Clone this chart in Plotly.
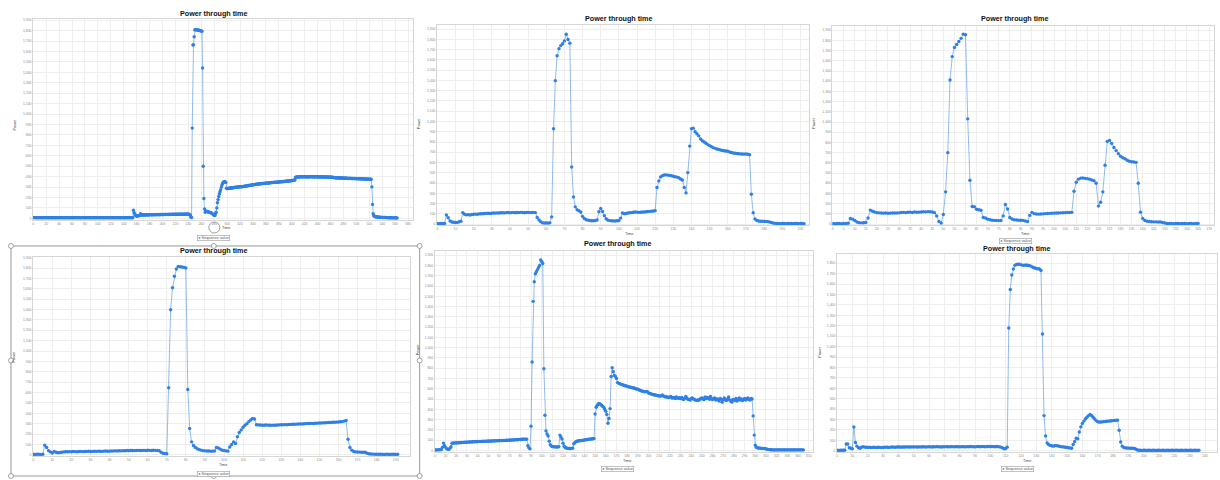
import plotly.graph_objects as go

W, H = 1220, 480

# ---------------- data (power per time step) ----------------
power_1 = [
    8,7,7,6,7,7,6,6,7,7,6,7,7,6,6,7,7,6,7,7,
    6,7,7,6,6,7,7,6,7,6,6,7,7,6,6,7,6,7,7,6,
    7,7,6,6,7,7,6,7,7,6,6,7,6,7,7,6,7,6,6,7,
    7,6,7,7,6,6,7,7,6,7,6,7,7,6,6,7,7,6,7,7,
    6,6,7,7,6,7,7,6,6,7,6,7,7,6,7,7,6,6,7,7,
    6,7,7,6,6,7,7,6,7,6,6,7,7,6,7,7,6,7,6,6,
    7,7,6,7,7,6,6,7,7,6,7,6,7,7,6,6,7,7,6,7,
    7,6,6,7,7,6,7,7,6,7,6,7,7,6,6,
    78,55,45,30,25,22,22,25,24,28,30,45,35,
    32,33,32,34,33,33,34,35,34,33,35,34,35,36,35,34,35,36,35,36,
    36,35,37,36,36,37,36,35,37,36,37,38,37,36,37,38,37,38,38,37,
    38,37,38,39,38,37,38,39,38,39,39,38,40,39,38,39,40,39,40,39,
    40,41,40,39,40,41,40,41,40,41,42,40,41,40,38,
    30,12,8,
    866,1662,1665,1742,1808,1812,1810,1809,1806,1807,1805,1803,1800,1801,1797,1795,1443,500,191,90,
    58,72,68,66,64,62,60,58,56,54,50,46,40,35,30,28,45,60,100,150,
    180,210,235,255,275,300,320,335,345,352,355,350,345,290,
    285,288,287,290,289,292,291,293,294,292,295,296,298,297,299,300,301,300,302,303,
    302,304,305,304,306,307,306,308,309,310,311,312,313,315,316,318,317,319,320,322,
    321,323,324,325,326,327,328,329,330,331,330,332,333,332,334,335,334,336,337,336,
    338,339,338,340,341,340,342,341,343,344,343,345,344,346,345,347,346,348,347,349,
    350,349,351,352,351,353,352,354,355,354,356,357,356,358,357,359,360,359,361,362,
    363,364,365,366,367,368,
    394,396,397,398,397,399,398,400,399,398,400,399,401,400,399,398,400,399,398,400,
    399,400,398,399,401,400,399,398,399,400,399,398,400,399,397,398,399,398,397,399,
    398,397,399,398,396,397,398,397,396,397,398,396,395,397,396,394,395,396,393,392,
    390,391,389,390,388,389,390,388,387,389,388,387,386,388,387,386,385,387,386,385,
    384,385,383,384,385,383,382,384,383,382,381,383,382,381,380,382,381,380,379,381,
    380,379,378,380,379,378,377,379,378,377,376,378,377,376,375,377,376,375,
    302,134,45,25,20,18,16,15,14,13,12,12,11,11,10,10,9,9,9,8,
    8,8,7,7,7,7,6,6,6,6,6,5,5,5,5,5,5,4,4,4,
]

power_2 = [
    5,4,5,5,6,
    88,62,30,20,17,15,16,22,28,
    112,95,90,92,88,93,95,97,96,99,101,100,103,104,105,103,
    106,108,107,109,108,110,111,109,112,113,110,112,114,111,113,112,114,113,111,113,114,112,113,114,112,
    65,40,22,12,10,11,10,12,70,
    929,1398,1641,1710,1740,1758,1786,1851,1800,1764,557,265,168,140,130,118,75,55,42,38,
    35,33,32,34,40,120,152,122,82,52,38,34,32,31,30,32,35,58,108,100,103,
    108,110,112,115,118,116,114,115,117,118,120,122,124,125,127,130,
    356,421,460,472,478,480,477,475,471,466,462,458,452,440,
    430,356,304,502,760,930,935,900,880,860,830,812,800,788,775,765,755,745,738,732,
    728,722,718,715,712,710,703,698,693,690,688,686,684,683,682,683,681,676,
    291,110,50,35,30,28,27,26,25,24,20,15,10,7,
    5,5,4,5,5,4,5,5,5,4,5,5,4,5,5,4,
]

power_3 = [
    5,4,5,5,4,5,6,8,
    55,48,35,20,14,12,13,15,
    60,137,125,118,112,110,108,107,108,106,107,108,109,108,110,
    113,115,112,116,117,114,118,116,117,119,121,120,122,121,118,112,
    80,25,10,94,316,700,1412,1641,1730,1760,1789,1820,1861,1855,1031,429,
    172,170,145,140,135,65,60,48,42,38,36,35,34,35,
    80,192,147,65,50,42,40,38,37,36,30,25,
    85,115,102,98,97,98,100,102,103,105,106,107,108,109,110,111,112,113,114,115,
    322,410,440,450,452,448,445,440,432,425,400,176,215,316,576,810,820,790,750,720,
    690,665,650,640,625,615,610,608,605,
    400,117,55,35,28,25,23,22,22,21,20,15,10,
    6,5,5,4,5,5,4,5,5,4,5,5,4,5,5,
]

power_4 = [
    5,4,5,5,4,6,
    93,70,40,28,18,32,25,20,22,24,
    28,30,29,31,30,32,31,30,32,33,31,32,33,34,32,33,34,33,35,34,33,35,36,34,35,
    36,37,38,37,39,38,40,39,41,40,42,41,40,42,43,41,42,43,42,44,43,42,44,43,42,40,
    25,15,12,10,
    646,1398,1610,1721,1790,1815,1812,1810,1806,1800,
    630,253,125,90,70,58,50,45,40,38,37,36,35,35,36,
    70,65,55,45,42,38,35,
    75,100,125,110,175,215,240,265,285,300,320,335,350,345,290,
    288,287,286,285,287,286,285,284,286,285,287,288,289,290,291,290,292,293,294,295,
    296,297,298,297,299,300,301,302,303,302,304,305,306,307,308,309,310,311,312,313,
    314,315,316,318,320,325,330,
    150,70,45,32,28,27,26,25,25,24,15,10,8,7,6,6,5,5,5,4,5,5,4,5,5,4,5,
]

power_5 = [
    5,4,5,5,6,5,8,
    30,71,45,30,15,12,10,20,
    35,70,72,71,73,74,73,75,76,75,77,78,77,79,80,
    80,81,82,83,82,84,85,84,86,85,87,86,88,87,88,89,88,90,89,90,
    91,90,92,91,93,92,94,93,95,94,95,96,95,97,96,98,97,99,98,100,
    101,100,102,103,102,104,105,104,106,107,106,108,109,108,110,109,110,
    45,25,15,236,860,1451,1641,1720,1740,1760,1780,1800,1855,1840,1820,
    795,342,190,160,140,90,55,42,38,36,35,34,33,34,36,
    149,130,110,70,40,28,24,22,20,19,18,20,22,65,
    75,85,90,92,94,95,97,98,100,102,104,105,106,108,110,111,112,114,115,
    355,420,440,455,455,450,440,430,420,400,380,350,265,310,407,720,805,765,730,720,700,660,
    655,650,645,640,638,635,630,628,625,620,618,615,612,610,608,605,600,598,595,590,
    585,580,578,575,572,570,575,572,
    560,555,552,548,545,542,540,538,535,533,530,528,532,540,530,525,520,522,518,515,
    520,525,510,512,515,505,520,510,508,512,505,515,500,495,510,525,505,498,495,490,
    505,510,500,495,490,485,490,488,495,505,
    510,500,495,520,505,515,510,498,525,500,495,505,510,490,500,495,480,505,498,470,
    495,510,490,485,500,520,490,480,470,495,490,485,505,480,495,510,490,500,485,495,
    505,490,500,510,495,490,505,500,
    336,149,50,30,25,24,22,21,20,20,19,18,15,12,10,8,7,6,5,5,
    4,5,5,4,5,5,4,5,5,4,5,5,4,5,5,4,5,5,4,5,5,4,5,5,4,5,5,4,
]

power_6 = [
    5,4,5,5,6,5,
    65,66,30,25,20,229,80,45,30,25,35,40,
    35,34,33,34,32,33,34,33,32,34,33,32,33,34,35,34,33,35,36,35,
    34,36,37,36,35,37,36,37,38,37,36,38,
    37,38,36,37,38,37,39,38,37,38,39,38,37,39,38,40,39,38,37,39,
    38,40,39,38,39,40,38,39,40,39,
    38,39,40,39,38,40,39,41,40,39,38,40,41,39,40,41,40,39,41,42,
    40,41,40,39,41,40,38,
    35,28,20,22,35,
    1179,1548,1688,1745,1780,1788,1790,1790,1785,1782,1780,1783,1781,1778,1775,1768,1760,1755,1750,1748,
    1745,1730,
    1121,338,143,75,60,52,48,45,48,50,47,44,40,38,36,34,32,30,28,25,
    60,90,120,115,180,230,262,285,305,322,338,348,340,322,305,290,280,275,276,278,
    280,282,284,285,286,288,290,291,293,295,
    197,85,45,32,28,27,26,25,25,24,22,15,8,
    5,5,4,5,5,4,5,5,4,5,5,4,5,5,4,5,5,4,5,5,
    4,5,5,4,5,5,4,5,5,4,5,5,4,5,5,4,5,5,4,5,
]

series = [power_1, power_2, power_3, power_4, power_5, power_6]
x_dticks = [20, 10, 5, 10, 10, 10]

# ---------------- layout geometry (pixels) ----------------
geoms = [
    dict(L=32, R=412.5, T=18.3, B=219.7, xp0=32.3, xs=0.6467, yp0=218.3, ys=0.1047),
    dict(L=436.3, R=809, T=24.3, B=225.3, xp0=436.7, xs=1.8167, yp0=224.0, ys=0.1030),
    dict(L=832, R=1214, T=25.0, B=225.3, xp0=832.3, xs=2.2167, yp0=224.0, ys=0.10247),
    dict(L=32, R=409.3, T=257.0, B=457.0, xp0=32.3, xs=1.909, yp0=455.7, ys=0.1042),
    dict(L=434, R=812.3, T=251.0, B=452.7, xp0=434.3, xs=1.0687, yp0=451.3, ys=0.10317),
    dict(L=836.5, R=1216.7, T=254.3, B=453.0, xp0=836.7, xs=1.5347, yp0=451.7, ys=0.10463),
]
titles_pos = [(213, 13), (619, 18), (1015, 18), (213, 251), (618, 244), (1017, 249)]
time_pos = [(225, 228), (629, 234), (1025, 234), (222, 466), (627, 462), (1027, 462)]
power_pos = [(14, 124), (419, 123), (814, 123), (13, 357), (417, 350), (819, 353)]
legend_pos = [(213, 237.5), (1015, 241.5), (213, 474.5), (617, 470), (1017, 470)]

LINE = 'rgba(70,140,230,0.85)'
MARK = '#2f80e6'
GRID = '#eeeeee'
FONT = 'Liberation Sans, Arial, sans-serif'

fig = go.Figure()
layout = dict(width=W, height=H, margin=dict(l=0, r=0, t=0, b=0),
              paper_bgcolor='white', plot_bgcolor='white', showlegend=False)

def px(x):
    return x / W

def py(y):
    return 1 - y / H

for i, (pw, g, dt) in enumerate(zip(series, geoms, x_dticks), start=1):
    suffix = '' if i == 1 else str(i)
    t = list(range(len(pw)))
    fig.add_trace(go.Scatter(
        x=t, y=pw, mode='lines+markers', xaxis='x' + suffix, yaxis='y' + suffix,
        line=dict(color=LINE, width=0.7),
        marker=dict(color=MARK, size=3.4, line=dict(width=0)),
        hoverinfo='skip', showlegend=False))
    xr = [(g['L'] - g['xp0']) / g['xs'], (g['R'] - g['xp0']) / g['xs']]
    yr = [(g['yp0'] - g['B']) / g['ys'], (g['yp0'] - g['T']) / g['ys']]
    common = dict(showgrid=True, gridcolor=GRID, gridwidth=0.6, zeroline=False,
                  showline=True, linecolor='#d6d6d6', linewidth=0.6, mirror=True,
                  ticks='', tickfont=dict(size=3.4, color='#8a8a8a', family=FONT),
                  tickformat=',d', tickangle=0)
    layout['xaxis' + suffix] = dict(common, domain=[px(g['L']), px(g['R'])], range=xr,
                                    tick0=0, dtick=dt, anchor='y' + suffix)
    layout['yaxis' + suffix] = dict(common, domain=[py(g['B']), py(g['T'])], range=yr,
                                    tick0=0, dtick=100, anchor='x' + suffix)

base = dict(xref='paper', yref='paper', showarrow=False, xanchor='center', yanchor='middle')
ann = []
for (x, y) in titles_pos:
    ann.append(dict(base, x=px(x), y=py(y),
                    text='<b>Power through time</b>', font=dict(size=7.2, color='#111', family=FONT)))
for (x, y) in time_pos:
    ann.append(dict(base, x=px(x), y=py(y),
                    text='Time', font=dict(size=3.8, color='#444', family=FONT)))
for (x, y) in power_pos:
    ann.append(dict(base, x=px(x), y=py(y),
                    text='Power', textangle=-90, font=dict(size=3.8, color='#444', family=FONT)))
for (x, y) in legend_pos:
    ann.append(dict(base, x=px(x), y=py(y),
                    text='<span style="color:%s">\u25cf</span> Sequence value' % MARK,
                    font=dict(size=3.8, color='#555', family=FONT),
                    bordercolor='#9a9a9a', borderwidth=0.6, borderpad=0.6, bgcolor='white'))
layout['annotations'] = ann

shapes = []
# selection frame around the lower-left chart
shapes.append(dict(type='rect', xref='paper', yref='paper', x0=px(10), x1=px(419),
                   y0=py(477), y1=py(246), line=dict(color='#8c8c8c', width=0.9)))
for (hx, hy) in [(10, 246), (213, 246), (419, 246), (10, 361), (419, 361),
                 (10, 477), (213, 477), (419, 477)]:
    shapes.append(dict(type='circle', xref='paper', yref='paper', x0=px(hx - 2.5), x1=px(hx + 2.5),
                       y0=py(hy + 2.5), y1=py(hy - 2.5), fillcolor='white',
                       line=dict(color='#8c8c8c', width=0.8)))
# rotate cursor icon in the first chart
shapes.append(dict(type='circle', xref='paper', yref='paper', x0=px(208), x1=px(219),
                   y0=py(233), y1=py(222), line=dict(color='#9a9a9a', width=1)))
layout['shapes'] = shapes

fig.update_layout(**layout)
fig.write_html("out.html")
